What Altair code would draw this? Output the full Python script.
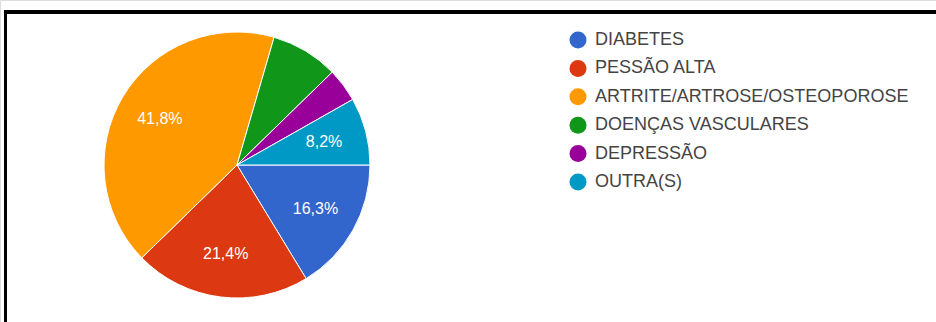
import altair as alt
import pandas as pd
import math

categories = ["DIABETES", "PESSÃO ALTA", "ARTRITE/ARTROSE/OSTEOPOROSE",
              "DOENÇAS VASCULARES", "DEPRESSÃO", "OUTRA(S)"]
values = [16.3, 21.4, 41.8, 8.2, 4.1, 8.2]
labels = ["16,3%", "21,4%", "41,8%", "", "", "8,2%"]
colors = ["#3366cc", "#dc3912", "#ff9900", "#109618", "#990099", "#0099c6"]

df = pd.DataFrame({"cat": categories, "val": values, "lab": labels,
                   "order": list(range(len(categories)))})

theta_scale = alt.Scale(range=[math.pi / 2, 5 * math.pi / 2])
color_scale = alt.Scale(domain=categories, range=colors)

base = alt.Chart(df).encode(
    theta=alt.Theta("val:Q", stack=True, scale=theta_scale),
    order=alt.Order("order:Q"),
    x=alt.value(237),
    y=alt.value(165),
)

pie = base.mark_arc(outerRadius=133, stroke="white", strokeWidth=1).encode(
    color=alt.Color("cat:N", scale=color_scale, sort=categories,
                    legend=alt.Legend(title=None, orient="none", legendX=569, legendY=31,
                                      symbolType="circle", symbolSize=290,
                                      symbolStrokeWidth=0, labelFontSize=18,
                                      labelFont="Liberation Sans", labelColor="#444444",
                                      labelOffset=8, rowPadding=10.4, padding=0,
                                      labelLimit=400))
)

text = base.mark_text(radius=90, fontSize=16, font="Liberation Sans",
                      color="white").encode(text="lab:N")

frame_top = alt.Chart(df).mark_rule(color="black", strokeWidth=3).encode(
    x=alt.value(4), x2=alt.value(940), y=alt.value(12))
frame_left = alt.Chart(df).mark_rule(color="black", strokeWidth=3).encode(
    x=alt.value(5.5), y=alt.value(11), y2=alt.value(330))

chart = alt.layer(pie, text, frame_top, frame_left).properties(
    width=936, height=322, autosize=alt.AutoSizeParams(type="none"), padding=0
).configure_view(stroke=None).configure(background="white")

chart.save("out.html", embed_options={"renderer": "svg", "actions": False})
